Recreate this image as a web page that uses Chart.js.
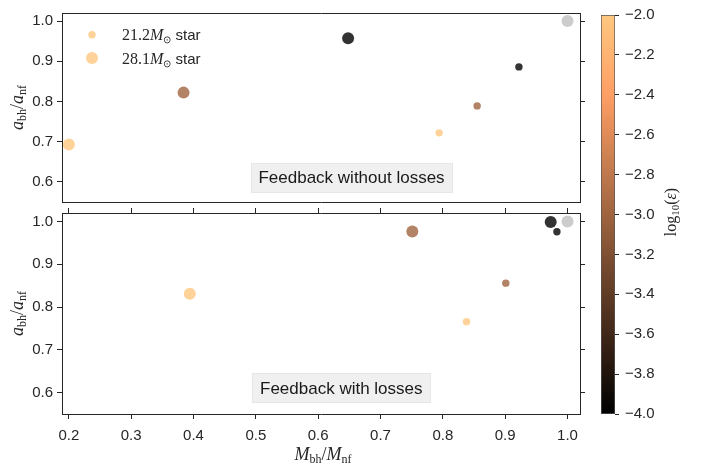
<!DOCTYPE html>
<html>
<head>
<meta charset="utf-8">
<script src="https://cdn.jsdelivr.net/npm/chart.js@4.4.0/dist/chart.umd.min.js"></script>
<style>
  body { margin: 0; background: #fff; }
  #wrap { position: relative; width: 701px; height: 464px; overflow: hidden; }
  canvas { position: absolute; }
  #topPanel { left: 0; top: 0; width: 600px; height: 215px; }
  #bottomPanel { left: 0; top: 200px; width: 600px; height: 264px; }
  #colorBar { left: 595px; top: 0; width: 106px; height: 464px; }
</style>
</head>
<body>
<div id="wrap">
  <canvas id="topPanel" width="600" height="215"></canvas>
  <canvas id="bottomPanel" width="600" height="264"></canvas>
  <canvas id="colorBar" width="106" height="464"></canvas>
</div>
<script>
// tick labels
const xTicks = [0.2, 0.3, 0.4, 0.5, 0.6, 0.7, 0.8, 0.9, 1.0];
const yTicks = [0.6, 0.7, 0.8, 0.9, 1.0];
const cbTicks = [-4.0, -3.8, -3.6, -3.4, -3.2, -3.0, -2.8, -2.6, -2.4, -2.2, -2.0];

// log10(epsilon) of each run (same order in every series)
const logEps = [-2, -3, -4];

// feedback without losses
const noLossSmallX = [0.794, 0.855, 0.922];
const noLossSmallY = [0.722, 0.789, 0.886];
const noLossLargeX = [0.200, 0.384, 0.648];
const noLossLargeY = [0.693, 0.822, 0.957];

// feedback with losses
const lossSmallX = [0.838, 0.901, 0.983];
const lossSmallY = [0.766, 0.856, 0.976];
const lossLargeX = [0.394, 0.751, 0.973];
const lossLargeY = [0.831, 0.977, 0.999];

// no feedback reference
const refX = [1.0];
const refY = [1.0];

const xMin = 0.189, xMax = 1.02;
const yMin = 0.55, yMax = 1.02;
const cbMin = -4, cbMax = -2;

const axisColor = '#262626';
const textColor = '#262626';
const sans = '"Liberation Sans", Arial, sans-serif';
const serif = '"Liberation Serif", "Times New Roman", serif';

Chart.defaults.font.family = sans;
Chart.defaults.font.size = 15;
Chart.defaults.color = textColor;

function copper(v, alpha) {
    const t = Math.max(0, Math.min(1, (v - cbMin) / (cbMax - cbMin)));
    const r = Math.round(Math.min(1, 1.25 * t) * 255);
    const g = Math.round(0.7812 * t * 255);
    const b = Math.round(0.4975 * t * 255);
    return 'rgba(' + r + ',' + g + ',' + b + ',' + alpha + ')';
}

function points(xs, ys) {
    return xs.map((x, i) => ({x: x, y: ys[i]}));
}

function panelDatasets(smallX, smallY, largeX, largeY) {
    return [{
        label: '21.2 star',
        data: points(smallX, smallY),
        pointRadius: 3.7,
        pointBorderWidth: 0,
        pointBackgroundColor: logEps.map(v => copper(v, 0.8))
    }, {
        label: '28.1 star',
        data: points(largeX, largeY),
        pointRadius: 6,
        pointBorderWidth: 0,
        pointBackgroundColor: logEps.map(v => copper(v, 0.8))
    }, {
        label: 'no feedback',
        data: points(refX, refY),
        pointRadius: 6,
        pointBorderWidth: 0,
        pointBackgroundColor: 'rgba(191,191,191,0.8)'
    }];
}

function drawRich(ctx, parts, x, y, angle, align) {
    ctx.save();
    ctx.translate(x, y);
    ctx.rotate(angle || 0);
    ctx.textBaseline = 'alphabetic';
    ctx.textAlign = 'left';
    let width = 0;
    parts.forEach(p => {
        ctx.font = p.font;
        width += ctx.measureText(p.text).width;
    });
    let cx = align === 'left' ? 0 : -width / 2;
    parts.forEach(p => {
        ctx.font = p.font;
        ctx.fillStyle = textColor;
        ctx.fillText(p.text, cx, p.dy || 0);
        cx += ctx.measureText(p.text).width;
    });
    ctx.restore();
}

function ratioLabel(letter) {
    return [
        {text: letter, font: 'italic 18px ' + serif},
        {text: 'bh', font: '12px ' + serif, dy: 3},
        {text: '/', font: '18px ' + serif},
        {text: letter, font: 'italic 18px ' + serif},
        {text: 'nf', font: '12px ' + serif, dy: 3}
    ];
}

function starLabel(mass) {
    return [
        {text: mass, font: '16px ' + serif},
        {text: 'M', font: 'italic 16px ' + serif},
        {text: '\u2299', font: '10px ' + serif, dy: 3},
        {text: ' star', font: '15px ' + sans}
    ];
}

function drawBoxText(ctx, text, cx, cy) {
    ctx.save();
    ctx.font = '17px ' + sans;
    const w = ctx.measureText(text).width + 15;
    const h = 29;
    ctx.fillStyle = '#f0f0f0';
    ctx.fillRect(cx - w / 2, cy - h / 2, w, h);
    ctx.strokeStyle = '#e6e6e6';
    ctx.lineWidth = 1;
    ctx.strokeRect(Math.round(cx - w / 2) + 0.5, Math.round(cy - h / 2) + 0.5, Math.round(w), h);
    ctx.fillStyle = '#1a1a1a';
    ctx.textAlign = 'center';
    ctx.textBaseline = 'middle';
    ctx.fillText(text, cx, cy + 1);
    ctx.restore();
}

const panelPlugin = {
    id: 'panelDecor',
    afterDraw(chart, args, opts) {
        const ctx = chart.ctx;
        const area = chart.chartArea;
        const sx = chart.scales.x, sy = chart.scales.y;
        drawRich(ctx, ratioLabel('a'), 23, (area.top + area.bottom) / 2, -Math.PI / 2);
        drawBoxText(ctx, opts.boxText, sx.getPixelForValue(opts.boxX), sy.getPixelForValue(opts.boxY));
        if (opts.legend) {
            const lx = area.left + 30;
            const rows = [{r: 3.7, y: area.top + 21.7, mass: '21.2'}, {r: 6, y: area.top + 45, mass: '28.1'}];
            rows.forEach(row => {
                ctx.beginPath();
                ctx.fillStyle = copper(-2, 0.8);
                ctx.arc(lx, row.y, row.r, 0, Math.PI * 2);
                ctx.fill();
                drawRich(ctx, starLabel(row.mass), area.left + 60, row.y + 5.5, 0, 'left');
            });
        }
        if (opts.xTitle) {
            drawRich(ctx, ratioLabel('M'), (area.left + area.right) / 2 + 2, area.bottom + 46, 0);
        }
    }
};

function fixedTicks(list) {
    return scale => { scale.ticks = list.map(v => ({value: v})); };
}

function panelOptions(topH, bottomH, isBottom, decor) {
    const grid = (ticks) => ({drawOnChartArea: false, drawTicks: ticks, tickLength: 5, tickColor: axisColor, tickWidth: 1});
    const border = {display: true, color: axisColor, width: 1};
    return {
        responsive: false,
        animation: false,
        events: [],
        layout: {padding: 0},
        plugins: {legend: {display: false}, tooltip: {enabled: false}, panelDecor: decor},
        scales: {
            x: {
                type: 'linear', position: 'bottom', min: xMin, max: xMax,
                afterBuildTicks: fixedTicks(xTicks),
                afterFit: s => { s.height = bottomH; },
                ticks: {display: isBottom, padding: 8, maxRotation: 0, callback: v => v.toFixed(1)},
                grid: grid(isBottom),
                border: border
            },
            x2: {
                type: 'linear', position: 'top', min: xMin, max: xMax,
                afterBuildTicks: fixedTicks(xTicks),
                afterFit: s => { s.height = topH; },
                ticks: {display: false},
                grid: grid(isBottom),
                border: border
            },
            y: {
                type: 'linear', position: 'left', min: yMin, max: yMax,
                afterBuildTicks: fixedTicks(yTicks),
                afterFit: s => { s.width = 62; },
                ticks: {padding: 4, callback: v => v.toFixed(1)},
                grid: grid(true),
                border: border
            },
            y2: {
                type: 'linear', position: 'right', min: yMin, max: yMax,
                afterBuildTicks: fixedTicks(yTicks),
                afterFit: s => { s.width = 20; },
                ticks: {display: false},
                grid: grid(true),
                border: border
            }
        }
    };
}

new Chart(document.getElementById('topPanel'), {
    type: 'scatter',
    data: {datasets: panelDatasets(noLossSmallX, noLossSmallY, noLossLargeX, noLossLargeY)},
    options: panelOptions(9, 4, false, {boxText: 'Feedback without losses', boxX: 0.6535, boxY: 0.611, legend: true}),
    plugins: [panelPlugin]
});

new Chart(document.getElementById('bottomPanel'), {
    type: 'scatter',
    data: {datasets: panelDatasets(lossSmallX, lossSmallY, lossLargeX, lossLargeY)},
    options: panelOptions(11, 50, true, {boxText: 'Feedback with losses', boxX: 0.637, boxY: 0.611, xTitle: true}),
    plugins: [panelPlugin]
});

const colorBarTitle = {
    id: 'colorBarTitle',
    afterDraw(chart) {
        drawRich(chart.ctx, [
            {text: 'log', font: '16px ' + serif},
            {text: '10', font: '11px ' + serif, dy: 3},
            {text: '(', font: '16px ' + serif},
            {text: '\u03b5', font: 'italic 16px ' + serif},
            {text: ')', font: '16px ' + serif}
        ], 81, 212, -Math.PI / 2);
    }
};

new Chart(document.getElementById('colorBar'), {
    type: 'bar',
    data: {
        labels: [''],
        datasets: [{
            data: [[cbMin, cbMax]],
            barPercentage: 1,
            categoryPercentage: 1,
            borderWidth: 1,
            borderColor: '#555',
            borderSkipped: false,
            backgroundColor: (c) => {
                const area = c.chart.chartArea;
                if (!area) return copper(-3, 1);
                const g = c.chart.ctx.createLinearGradient(0, area.bottom, 0, area.top);
                [0, 0.2, 0.4, 0.6, 0.8, 0.9, 1].forEach(t => g.addColorStop(t, copper(cbMin + t * (cbMax - cbMin), 1)));
                return g;
            }
        }]
    },
    options: {
        responsive: false,
        animation: false,
        events: [],
        layout: {padding: {left: 6, top: 9, bottom: 50, right: 0}},
        plugins: {legend: {display: false}, tooltip: {enabled: false}},
        scales: {
            x: {display: false},
            y: {
                type: 'linear', position: 'right', min: cbMin, max: cbMax,
                afterBuildTicks: fixedTicks(cbTicks),
                afterFit: s => { s.width = 86; },
                ticks: {padding: 6, callback: v => '\u2212' + Math.abs(v).toFixed(1)},
                grid: {drawOnChartArea: false, drawTicks: true, tickLength: 4, tickColor: axisColor},
                border: {display: false}
            }
        }
    },
    plugins: [colorBarTitle]
});
</script>
</body>
</html>
